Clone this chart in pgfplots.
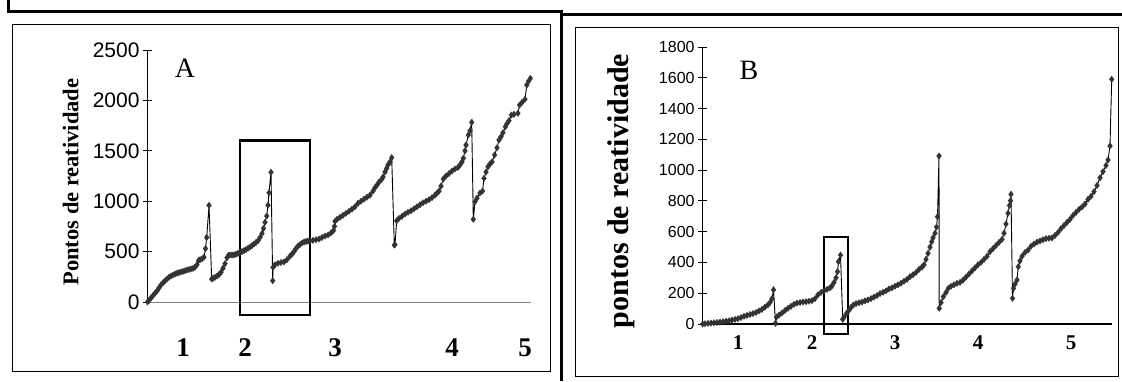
\documentclass[border=0pt]{standalone}
\usepackage{fontspec}
\setmainfont{Liberation Serif}
\newfontfamily\arialfont{Liberation Sans}
\usepackage{pgfplots}
\pgfplotsset{compat=1.18}
\definecolor{mk}{HTML}{333333}

\begin{document}
\begin{tikzpicture}[x=1pt,y=1pt]
\useasboundingbox (0,0) rectangle (1122,381);
\draw[line width=3pt] (8,381) -- (8,369) -- (561,369) -- (561,0);
\draw[line width=3pt] (561,366) -- (1122,366);
\draw[line width=1pt] (12,10) rectangle (550,356);
\draw[line width=1pt] (575,5) rectangle (1118,353);

% ---------------- Panel A ----------------
\begin{axis}[
  at={(147.5pt,79pt)}, anchor=south west, scale only axis,
  width=383.5pt, height=252pt,
  xmin=147.5, xmax=531, ymin=0, ymax=2500,
  axis x line*=bottom, axis y line*=left,
  x axis line style={gray, line width=1pt},
  y axis line style={black, line width=1pt},
  tick align=center, major tick length=9pt,
  ytick={0,500,1000,1500,2000,2500},
  y tick style={black, line width=0.8pt},
  xtick={183,245,335,452,525}, xticklabels={1,2,3,4,5},
  x tick style={draw=none},
  /pgf/number format/assume math mode=true,
  /pgf/number format/1000 sep={},
  yticklabel style={font=\arialfont\fontsize{21}{21}\selectfont},
  xticklabel style={font=\bfseries\fontsize{27}{27}\selectfont, anchor=center, yshift=-41pt},
  ylabel={Pontos de reatividade},
  ylabel style={font=\bfseries\fontsize{22.5}{22.5}\selectfont, at={(axis description cs:-0.2,0.476)}, anchor=center},
  clip=false,
]
\addplot[black, line width=0.9pt, mark=diamond*, mark size=3.2pt, mark options={mk, fill=mk, line width=0.3pt}] coordinates {
(147.5,0) (149,15) (151,40) (153,65) (155,86) (157,110) (159,140) (161,170) (163,190) (165,210)
(167,228) (169,245) (171,258) (173,268) (175,278) (177,286) (179,292) (181,298) (183,304) (185,310)
(187,318) (189,322) (191,328) (193,334) (195,345) (197,370) (198.5,410) (200,420) (202,428) (204,445)
(205.5,530) (206.7,640) (209,959)
(211.7,228) (213,235) (215,245) (217,258) (219,272) (221,295) (223,335) (225,380) (227,440) (228.5,462)
(230,466) (232,466) (234,468) (236,474) (238,482) (240,490) (242,500) (244,510) (246,520) (248,532)
(250,545) (252,560) (254,575) (256,590) (258,608) (260,640) (262,680) (263.5,730) (265,790) (266.7,853)
(268,960) (269,1084) (271,1287)
(272.7,211) (273,344) (275,370) (278,384) (281,392) (284,398) (287,420) (290,455) (292,475) (294,500)
(296,530) (298,555) (300,570) (302,585) (304,595) (306,600) (308,605) (310,608) (313,612) (316,618)
(319,625) (322,640) (325,655) (328,665) (331,685) (333.5,710) (334.5,750) (335,800) (337,820) (340,840)
(343,860) (346,880) (349,900) (352,922) (355,945) (358,980) (361,1000) (364,1020) (367,1040) (370,1060)
(373,1100) (375,1134) (377,1160) (379,1190) (381.7,1217) (383,1240) (385,1290) (386.7,1326) (388,1360) (390,1390)
(391.7,1432)
(394.3,565) (395,570) (396.7,806) (399,830) (402,850) (405,873) (408,890) (411,905) (414,925) (417,945)
(420,965) (423,985) (426,1000) (429,1015) (432,1035) (435,1060) (437,1080) (439,1100) (441,1150) (443.3,1220)
(446,1250) (449,1275) (452,1300) (455,1320) (458,1335) (460,1360) (462,1390) (463.3,1426) (465,1500) (466,1557)
(468.3,1657) (470,1700) (471.7,1783)
(473.3,820) (475,995) (477,1030) (480,1081) (482.5,1100) (484,1227) (486,1290) (488,1342) (490,1370) (492,1390)
(494.6,1458) (497,1530) (499,1607) (501,1640) (503,1680) (505.4,1739) (507,1770) (509,1800) (511.4,1855) (514,1862)
(517.9,1872) (519.6,1954) (522,1980) (525,2011) (526.8,2153) (528.5,2190) (530.4,2219)
};
\draw[line width=2.5pt] (axis cs:240,-129) rectangle (axis cs:310,1600);
\node[font=\fontsize{28}{28}\selectfont] at (axis cs:185,2321) {A};
\end{axis}

% ---------------- Panel B ----------------
\begin{axis}[
  at={(702.6pt,57pt)}, anchor=south west, scale only axis,
  width=409.4pt, height=277pt,
  xmin=702.6, xmax=1112, ymin=0, ymax=1800,
  axis x line*=bottom, axis y line*=left,
  x axis line style={black, line width=1.5pt},
  y axis line style={black, line width=1pt},
  tick align=center, major tick length=9pt,
  ytick={0,200,...,1800},
  y tick style={black, line width=0.8pt},
  xtick={738,812,895,978,1071}, xticklabels={1,2,3,4,5},
  x tick style={draw=none},
  /pgf/number format/assume math mode=true,
  /pgf/number format/1000 sep={},
  yticklabel style={font=\arialfont\fontsize{16}{16}\selectfont},
  xticklabel style={font=\bfseries\fontsize{21}{21}\selectfont, anchor=center, yshift=-14pt},
  ylabel={pontos de reatividade},
  ylabel style={font=\bfseries\fontsize{30}{30}\selectfont, at={(axis description cs:-0.199,0.48)}, anchor=center},
  clip=false,
]
\addplot[black, line width=0.9pt, mark=diamond*, mark size=3.2pt, mark options={mk, fill=mk, line width=0.3pt}] coordinates {
(702.6,0) (705,2) (708,4) (711,6) (714,8) (717,10) (720,12) (723,15) (726,18) (729,21)
(732,26) (735,30) (738,35) (741,42) (744,50) (747,56) (750,62) (753,68) (756,75) (759,85)
(762,95) (765,110) (768,125) (770,140) (772,165) (773.5,222)
(775.5,5) (776.5,45) (779,58) (782,72) (785,88) (788,102) (791,115) (794,128) (797,136) (800,140)
(803,143) (806,145) (809,148) (812,152) (815,165) (818,190) (821,205) (824,216) (827,225) (830,235)
(832,248) (834,270) (836,300) (837.5,340) (838.5,405) (840.5,448)
(842.7,30) (844,45) (846.7,70) (849,90) (851,108) (853.3,123) (856,132) (859,138) (862,143) (865,150)
(868,157) (871,165) (874,175) (877,185) (880,198) (883,206) (886,215) (889,228) (892,235) (895,245)
(898,255) (901,265) (904,278) (907,290) (910,307) (913,320) (916,335) (919,355) (922,370) (924,385)
(926,420) (928,459) (930,500) (931.7,535) (933,560) (935,590) (936.5,630) (937.5,697) (939,1092)
(939.2,102) (941,140) (943.3,177) (946,205) (948.3,232) (951,245) (954,255) (957,264) (960,270) (963,285)
(966,305) (969,325) (972,345) (975,365) (978,385) (981,400) (984,420) (987,440) (990,470) (993,490)
(996,510) (999,530) (1002,550) (1004,590) (1006,650) (1008,720) (1009.5,770) (1010.5,801) (1011,843)
(1012.5,167) (1013.5,232) (1015,260) (1017,286) (1018.3,372) (1020,410) (1022,440) (1025,465) (1028,480) (1031,505)
(1034,520) (1037,532) (1040,540) (1043,548) (1046,555) (1049,557) (1052,560) (1055,575) (1058,595) (1061,620)
(1064,640) (1067,660) (1070,680) (1073,705) (1076,725) (1079,745) (1082,760) (1085,780) (1088,810) (1091,830)
(1094,860) (1097,900) (1100,950) (1103,990) (1106,1030) (1108,1066) (1110,1157) (1111.7,1590)
};
\draw[line width=2pt] (axis cs:824,-65) rectangle (axis cs:848,565);
\node[font=\fontsize{28}{28}\selectfont] at (axis cs:749,1650) {B};
\end{axis}
\end{tikzpicture}
\end{document}
